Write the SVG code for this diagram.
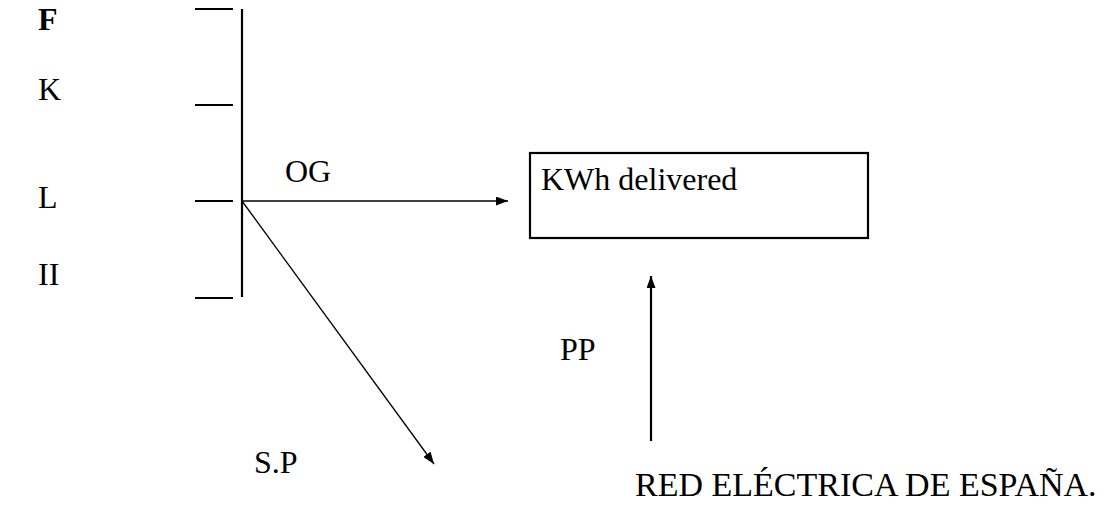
<svg xmlns="http://www.w3.org/2000/svg" width="1109" height="518" viewBox="0 0 1109 518">
<style>
text{font-family:'Liberation Serif','Times New Roman',Times,serif;font-size:32px;fill:#000}
.thick{stroke:#000;stroke-width:2.2;fill:none}
.thin{stroke:#000;stroke-width:1.3;fill:none}
</style>
<defs>
<marker id="ah" markerWidth="12" markerHeight="9" refX="12" refY="4.5" orient="auto" markerUnits="userSpaceOnUse">
<path d="M0,0 L12,4.5 L0,9 Z" fill="#000"/>
</marker>
</defs>
<rect width="1109" height="518" fill="#fff"/>
<g id="scale">
<line class="thick" x1="242" y1="9" x2="242" y2="297"/>
<line class="thick" x1="195" y1="9" x2="233" y2="9"/>
<line class="thick" x1="195" y1="105" x2="233" y2="105"/>
<line class="thick" x1="195" y1="201" x2="233" y2="201"/>
<line class="thick" x1="195" y1="298" x2="233" y2="298"/>
</g>
<g id="labels">
<text x="38" y="30" font-weight="bold">F</text>
<text x="38" y="100">K</text>
<text x="38" y="208">L</text>
<text x="38" y="285">II</text>
</g>
<g id="box">
<rect x="530" y="153" width="338" height="85" class="thick"/>
<text x="541" y="190">KWh delivered</text>
</g>
<g id="connectors">
<line class="thin" x1="242" y1="201" x2="508" y2="201" marker-end="url(#ah)"/>
<line class="thin" x1="242" y1="201" x2="434" y2="464" marker-end="url(#ah)"/>
<line class="thick" x1="651" y1="441" x2="651" y2="276" marker-end="url(#ah)"/>
</g>
<g id="edge-labels">
<text x="285" y="182">OG</text>
<text x="560" y="360">PP</text>
<text x="254" y="473">S.P</text>
<text x="635" y="496" style="font-size:34px">RED ELÉCTRICA DE ESPAÑA.</text>
</g>
</svg>
